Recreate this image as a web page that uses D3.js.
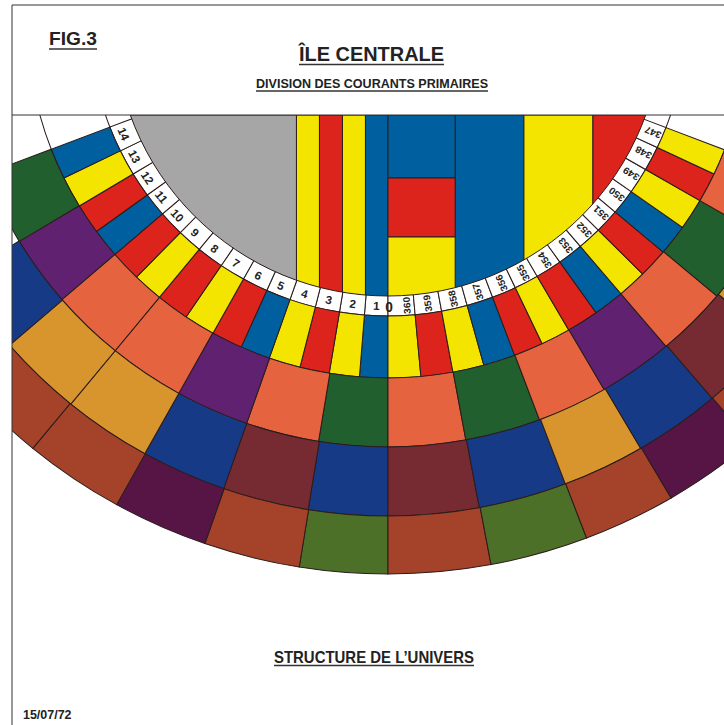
<!DOCTYPE html>
<html>
<head>
<meta charset="utf-8">
<script src="https://cdnjs.cloudflare.com/ajax/libs/d3/7.8.5/d3.min.js"></script>
<style>
  html, body { margin: 0; padding: 0; background: #fff; }
  svg { display: block; }
  text { font-family: "Liberation Sans", Arial, sans-serif; font-weight: bold; fill: #222; }
</style>
</head>
<body>
<div id="container"></div>
<script>
const palette = {
  yellow: "#f3e500",
  red: "#dc241c",
  blue: "#00609f",
  green: "#215f2e",
  purple: "#5f2170",
  orange: "#e5643f",
  ochre: "#d8952d",
  navy: "#173a87",
  maroon: "#762a32",
  brown: "#a4432a",
  plum: "#571545",
  olive: "#4d7028",
  grey: "#a6a6a6",
  white: "#ffffff",
};

// counted outward from the centre line, one entry per division
const labelsLeft = ["1", "2", "3", "4", "5", "6", "7", "8", "9", "10", "11", "12", "13", "14"];
const labelsRight = ["360", "359", "358", "357", "356", "355", "354", "353", "352", "351", "350", "349", "348", "347"];

const primaryLeft = ["blue", "yellow", "red", "yellow", "blue", "red", "yellow", "red", "yellow", "red", "blue", "red", "yellow", "blue"];
const primaryRight = ["yellow", "red", "yellow", "blue", "red", "yellow", "red", "blue", "yellow", "red", "blue", "yellow", "red", "yellow"];

// outer rings, every cell covers two divisions
const ring3Left = ["green", "orange", "purple", "orange", "orange", "purple", "green"];
const ring3Right = ["orange", "green", "orange", "purple", "orange", "green", "orange"];
const ring4Left = ["navy", "maroon", "navy", "ochre", "ochre", "navy"];
const ring4Right = ["maroon", "navy", "ochre", "navy", "maroon", "ochre"];
const ring5Left = ["olive", "brown", "plum", "brown", "brown"];
const ring5Right = ["brown", "olive", "brown", "plum", "brown"];

// cell limits in degrees from the centre line
// (the two sides are not quite symmetric in the original)
const primaryDegLeft = [0, 4.6, 9.5, 14.3, 19.45, 24.3, 29.35, 34.4, 39.7, 44.6, 49.6, 54.3, 59.2, 64.3, 69.3];
const primaryDegRight = [0, 5.3, 10.5, 15.6, 20.8, 25.6, 30.4, 35.6, 40.6, 45.3, 50.1, 55.1, 60.2, 65, 69.2];
const ring3DegLeft = [0, 9.4, 19.4, 29.4, 39.7, 49.6, 59.25, 69.3];
const ring3DegRight = [0, 10.55, 20.85, 30.45, 40.6, 50.2, 60.2, 69.3];
const ring4DegLeft = [0, 9.3, 19.4, 29.4, 39.7, 49.5, 59.3];
const ring4DegRight = [0, 10.65, 21, 30.65, 40.75, 50.5, 60];
const ring5DegLeft = [0, 9.25, 19.35, 29.35, 39.8, 49.5];
const ring5DegRight = [0, 10.75, 21.05, 30.75, 40.8, 50.5];

const ringDepths = [0, 20, 82, 151, 220, 278];

// stripes of the central island
const stripEdges = [-12, -3.98, -2.98, -1.98, -0.98, 0, 2.92, 5.91, 8.91, 12];
const stripColors = ["grey", "yellow", "red", "yellow", "blue", null, "blue", "yellow", "red"];
const blockEdges = [0, 63, 122, 185];
const blockColors = ["blue", "red", "yellow"];

const width = 724;
const height = 725;
const frameLeft = 12;
const frameTop = 5;
const bandTop = 115;
const centerX = 388;
const centerY = 22;
const stretchX = 1.013; // the rings come out a bit wider than tall
const lineColor = "#2b1c1c";
const ringTransform = "translate(" + centerX + "," + centerY + ") scale(" + stretchX + ",1)";

const angleScale = d3.scaleLinear().domain([0, 180]).range([0, Math.PI]);
const radiusScale = d3.scaleLinear().domain([0, 278]).range([274, 552]);
const stripX = d3.scaleLinear().domain([0, 1]).range([centerX, centerX + 23]);
const blockY = d3.scaleLinear().domain([0, 185]).range([bandTop, bandTop + 185]);

const svg = d3
  .select("#container")
  .append("svg")
  .attr("width", width)
  .attr("height", height);

const defs = svg.append("defs");
defs
  .append("clipPath")
  .attr("id", "band")
  .append("rect")
  .attr("x", frameLeft)
  .attr("y", bandTop)
  .attr("width", width - frameLeft)
  .attr("height", height - bandTop);
defs
  .append("clipPath")
  .attr("id", "island")
  .append("circle")
  .attr("cx", centerX)
  .attr("cy", centerY)
  .attr("r", radiusScale(0));

const band = svg.append("g").attr("clip-path", "url(#band)");

// label ring first: its inner edge hides under the island
const blanks = labelsLeft.map(() => "white");
drawRing(blanks, blanks, primaryDegLeft, primaryDegRight, -5, ringDepths[1]);
drawIsland();
drawRing(primaryLeft, primaryRight, primaryDegLeft, primaryDegRight, ringDepths[1], ringDepths[2]);
drawRing(ring3Left, ring3Right, ring3DegLeft, ring3DegRight, ringDepths[2], ringDepths[3]);
drawRing(ring4Left, ring4Right, ring4DegLeft, ring4DegRight, ringDepths[3], ringDepths[4]);
drawRing(ring5Left, ring5Right, ring5DegLeft, ring5DegRight, ringDepths[4], ringDepths[5]);
drawLabels();
drawFrame();
drawTitles();

// degrees measured on the page to angle before the horizontal stretch
function pageAngle(deg) {
  return Math.atan(Math.tan(angleScale(deg)) / stretchX);
}

function drawIsland() {
  const island = band
    .append("g")
    .attr("clip-path", "url(#island)")
    .attr("stroke", lineColor)
    .attr("stroke-width", 1);

  stripColors.forEach((color, i) => {
    if (color === null) {
      return;
    }
    island
      .append("rect")
      .attr("x", stripX(stripEdges[i]))
      .attr("y", blockY(0))
      .attr("width", stripX(stripEdges[i + 1]) - stripX(stripEdges[i]))
      .attr("height", blockY(185) - blockY(0))
      .attr("fill", palette[color]);
  });

  // this stripe is cut in three blocks
  blockColors.forEach((color, i) => {
    island
      .append("rect")
      .attr("x", stripX(stripEdges[5]))
      .attr("y", blockY(blockEdges[i]))
      .attr("width", stripX(stripEdges[6]) - stripX(stripEdges[5]))
      .attr("height", blockY(blockEdges[i + 1]) - blockY(blockEdges[i]))
      .attr("fill", palette[color]);
  });

  band
    .append("circle")
    .attr("cx", centerX)
    .attr("cy", centerY)
    .attr("r", radiusScale(0))
    .attr("fill", "none")
    .attr("stroke", lineColor)
    .attr("stroke-width", 1);
}

function drawRing(leftColors, rightColors, leftDeg, rightDeg, fromDepth, toDepth) {
  const arc = d3
    .arc()
    .innerRadius(radiusScale(fromDepth))
    .outerRadius(radiusScale(toDepth));

  const cells = [];
  leftColors.forEach((c, i) =>
    cells.push({ c: c, a: Math.PI + pageAngle(leftDeg[i]), b: Math.PI + pageAngle(leftDeg[i + 1]) })
  );
  rightColors.forEach((c, i) =>
    cells.push({ c: c, a: Math.PI - pageAngle(rightDeg[i + 1]), b: Math.PI - pageAngle(rightDeg[i]) })
  );

  band
    .append("g")
    .attr("transform", ringTransform)
    .selectAll("path")
    .data(cells)
    .enter()
    .append("path")
    .attr("d", (d) => arc({ startAngle: d.a, endAngle: d.b }))
    .attr("fill", (d) => palette[d.c])
    .attr("stroke", lineColor)
    .attr("stroke-width", 1);
}

function drawLabels() {
  const g = band.append("g").attr("transform", ringTransform);

  // the circles go on up to the top band past the last division
  [1, 2].forEach((ring) => {
    const r = radiusScale(ringDepths[ring]);
    [1, -1].forEach((side) => {
      const a0 = pageAngle(69);
      const a1 = a0 + 0.4;
      g.append("path")
        .attr(
          "d",
          d3.arc().innerRadius(r).outerRadius(r)({
            startAngle: Math.PI + side * a0,
            endAngle: Math.PI + side * a1,
          })
        )
        .attr("fill", "none")
        .attr("stroke", lineColor)
        .attr("stroke-width", 1);
    });
  });

  const midRadius = radiusScale(10);

  labelsLeft.forEach((label, i) => {
    const deg = (primaryDegLeft[i] + primaryDegLeft[i + 1]) / 2;
    g.append("text")
      .attr("transform", "rotate(" + deg + ") translate(0," + midRadius + ")")
      .attr("text-anchor", "middle")
      .attr("dy", "0.36em")
      .attr("font-size", 11.5)
      .text(label);
  });

  labelsRight.forEach((label, i) => {
    // 360 is pushed over to leave room for the zero
    const nudge = i === 0 ? 1.1 : 0;
    const deg = (primaryDegRight[i] + primaryDegRight[i + 1]) / 2 + nudge;
    g.append("text")
      .attr("transform", "rotate(" + -deg + ") translate(0," + midRadius + ") rotate(-90)")
      .attr("text-anchor", "middle")
      .attr("dy", "0.36em")
      .attr("font-size", 9.5)
      .attr("textLength", 17)
      .attr("lengthAdjust", "spacingAndGlyphs")
      .text(label);
  });

  // the zero sits on the centre line
  g.append("text")
    .attr("x", 1)
    .attr("y", midRadius + 1)
    .attr("text-anchor", "middle")
    .attr("dy", "0.36em")
    .attr("font-size", 15)
    .attr("textLength", 7.5)
    .attr("lengthAdjust", "spacingAndGlyphs")
    .text("0");
}

function drawFrame() {
  const lines = [
    [frameLeft, frameTop, width, frameTop],
    [frameLeft, frameTop, frameLeft, height],
    [frameLeft, bandTop, width, bandTop],
  ];
  svg
    .selectAll("line.frame")
    .data(lines)
    .enter()
    .append("line")
    .attr("class", "frame")
    .attr("x1", (d) => d[0])
    .attr("y1", (d) => d[1])
    .attr("x2", (d) => d[2])
    .attr("y2", (d) => d[3])
    .attr("stroke", "#333")
    .attr("stroke-width", 1);
}

function drawTitles() {
  const titles = [
    { text: "FIG.3", x: 49, y: 45, size: 19, len: 48, rule: 49 },
    { text: "ÎLE CENTRALE", x: 299, y: 61, size: 20.5, len: 145, rule: 64.5 },
    { text: "DIVISION DES COURANTS PRIMAIRES", x: 256, y: 87.5, size: 12, len: 232, rule: 91 },
    { text: "STRUCTURE DE L’UNIVERS", x: 274, y: 663, size: 16.5, len: 200, rule: 665.5 },
    { text: "15/07/72", x: 23, y: 719, size: 13, len: 48.5, rule: null },
  ];

  titles.forEach((t) => {
    svg
      .append("text")
      .attr("x", t.x)
      .attr("y", t.y)
      .attr("font-size", t.size)
      .attr("textLength", t.len)
      .attr("lengthAdjust", "spacingAndGlyphs")
      .text(t.text);
    if (t.rule !== null) {
      svg
        .append("line")
        .attr("x1", t.x)
        .attr("x2", t.x + t.len)
        .attr("y1", t.rule)
        .attr("y2", t.rule)
        .attr("stroke", "#333")
        .attr("stroke-width", 1.5);
    }
  });
}
</script>
</body>
</html>
